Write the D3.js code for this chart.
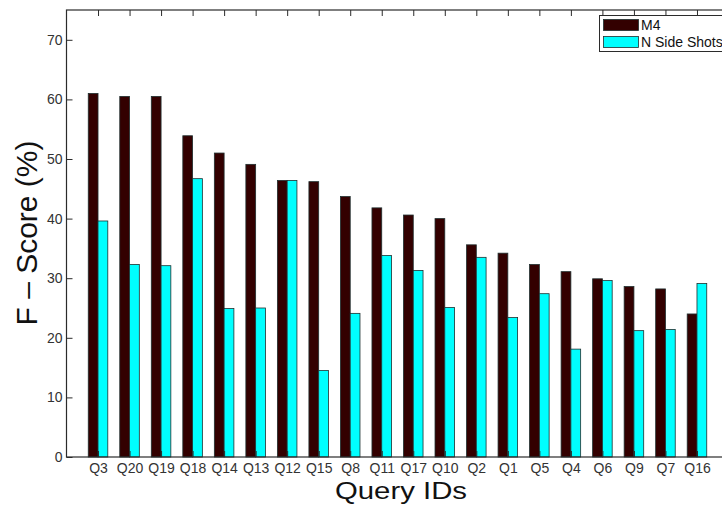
<!DOCTYPE html>
<html>
<head>
<meta charset="utf-8">
<script src="https://cdn.jsdelivr.net/npm/d3@7"></script>
<style>
  html, body { margin: 0; padding: 0; background: #fff; }
  svg { display: block; font-family: "Liberation Sans", Arial, sans-serif; }
</style>
</head>
<body>
<svg id="chart" width="722" height="506"></svg>
<script>
// Query IDs, ordered by M4 score
const categories = ["Q3","Q20","Q19","Q18","Q14","Q13","Q12","Q15","Q8","Q11",
                    "Q17","Q10","Q2","Q1","Q5","Q4","Q6","Q9","Q7","Q16"];
// F-Score (%) per method
const m4Scores  = [61.0,60.5,60.5,53.9,51.0,49.1,46.4,46.2,43.7,41.8,
                   40.6,40.0,35.6,34.2,32.3,31.1,29.9,28.6,28.2,24.0];
const nssScores = [39.6,32.3,32.1,46.7,24.9,25.0,46.4,14.5,24.1,33.8,
                   31.3,25.1,33.5,23.4,27.4,18.1,29.6,21.2,21.4,29.1];
const seriesNames = ["M4", "N Side Shots"];
const yTicks = [0,10,20,30,40,50,60,70];

const colors = ["#330000", "#00ffff"];
const axisColor = "#2b2b2b";
const textColor = "#333";

const svg = d3.select("#chart");
const plot = { left: 66.5, right: 728.5, top: 10, bottom: 457 };

const x = d3.scaleLinear().domain([0, categories.length + 1]).range([plot.left, plot.right]);
const y = d3.scaleLinear().domain([0, 75]).range([plot.bottom, plot.top]);
const barW = x(0.31) - x(0);

const series = [m4Scores, nssScores];

// bars
series.forEach((vals, s) => {
  svg.append("g")
    .selectAll("rect")
    .data(vals)
    .join("rect")
    .attr("x", (d, i) => s === 0 ? x(i + 1) - barW : x(i + 1))
    .attr("y", d => y(d))
    .attr("width", barW)
    .attr("height", d => y(0) - y(d))
    .attr("fill", colors[s])
    .attr("stroke", "#1f2f2f")
    .attr("stroke-width", 0.8);
});

// frame
svg.append("rect")
  .attr("x", plot.left).attr("y", plot.top)
  .attr("width", plot.right - plot.left).attr("height", plot.bottom - plot.top)
  .attr("fill", "none").attr("stroke", axisColor).attr("stroke-width", 1.2);

const tickLen = 6;
const fontFam = '"Liberation Sans", Arial, sans-serif';

// left axis
const yAxisL = d3.axisLeft(y).tickValues(yTicks).tickSizeInner(-tickLen).tickSizeOuter(0).tickPadding(4);
const gl = svg.append("g").attr("transform", `translate(${plot.left},0)`).call(yAxisL);
gl.select(".domain").remove();
gl.selectAll("line").attr("stroke", axisColor);
gl.selectAll("text").attr("fill", textColor).style("font-size", "14px").style("font-family", fontFam);

// right axis (ticks only)
const yAxisR = d3.axisRight(y).tickValues(yTicks).tickSizeInner(-tickLen).tickSizeOuter(0).tickFormat("");
const gr = svg.append("g").attr("transform", `translate(${plot.right},0)`).call(yAxisR);
gr.select(".domain").remove();
gr.selectAll("line").attr("stroke", axisColor);

// bottom axis
const xAxisB = d3.axisBottom(x).tickValues(d3.range(1, categories.length + 1))
  .tickFormat(d => categories[d - 1]).tickSizeInner(-tickLen).tickSizeOuter(0).tickPadding(6);
const gb = svg.append("g").attr("transform", `translate(0,${plot.bottom})`).call(xAxisB);
gb.select(".domain").remove();
gb.selectAll("line").attr("stroke", axisColor);
gb.selectAll("text").attr("fill", textColor).style("font-size", "14px").style("font-family", fontFam);

// top axis (ticks only)
const xAxisT = d3.axisTop(x).tickValues(d3.range(1, categories.length + 1))
  .tickSizeInner(-tickLen).tickSizeOuter(0).tickFormat("");
const gt = svg.append("g").attr("transform", `translate(0,${plot.top})`).call(xAxisT);
gt.select(".domain").remove();
gt.selectAll("line").attr("stroke", axisColor);

// axis titles
svg.append("text")
  .attr("transform", "translate(37,233) rotate(-90)")
  .attr("text-anchor", "middle")
  .attr("fill", "#111")
  .style("font-size", "30px")
  .text("F \u2013 Score (%)");

svg.append("text")
  .attr("x", 401).attr("y", 499)
  .attr("text-anchor", "middle")
  .attr("fill", "#111")
  .attr("textLength", 132)
  .attr("lengthAdjust", "spacingAndGlyphs")
  .style("font-size", "24px")
  .text("Query IDs");

// legend
const lg = svg.append("g");
lg.append("rect")
  .attr("x", 599.5).attr("y", 15.5).attr("width", 130).attr("height", 36)
  .attr("fill", "#fff").attr("stroke", axisColor).attr("stroke-width", 1);
seriesNames.forEach((name, i) => {
  lg.append("rect")
    .attr("x", 603.5).attr("y", 19.5 + i * 17)
    .attr("width", 35).attr("height", 11)
    .attr("fill", colors[i]).attr("stroke", "#1f2f2f").attr("stroke-width", 0.8);
  lg.append("text")
    .attr("x", 641).attr("y", 30 + i * 17)
    .attr("fill", "#111")
    .style("font-size", "14px")
    .text(name);
});
</script>
</body>
</html>
